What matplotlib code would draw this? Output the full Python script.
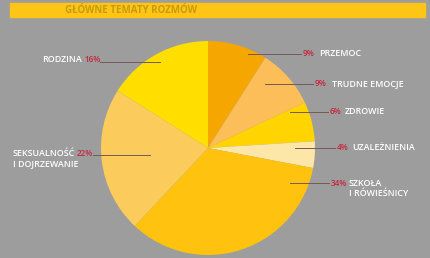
import matplotlib
matplotlib.use("Agg")
import matplotlib.pyplot as plt
from matplotlib.lines import Line2D

title = "GŁÓWNE TEMATY ROZMÓW"
categories = ["PRZEMOC", "TRUDNE EMOCJE", "ZDROWIE", "UZALEŻNIENIA",
              "SZKOŁA\nI RÓWIEŚNICY", "SEKSUALNOŚĆ\nI DOJRZEWANIE", "RODZINA"]
values = [9, 9, 6, 4, 34, 22, 16]
colors = ["#F6A600", "#FBBE58", "#FFD400", "#FCE6A8", "#FFC20E", "#FBCB5C", "#FFDE00"]

W, H = 431, 258
fig = plt.figure(figsize=(W / 100, H / 100), dpi=100)
fig.patch.set_facecolor("#9d9d9d")

# pie axes
cx, cy, r = 208, 148, 107
ax = fig.add_axes([(cx - r) / W, (H - cy - r) / H, 2 * r / W, 2 * r / H])
ax.pie(values, colors=colors, startangle=90, counterclock=False,
       wedgeprops=dict(linewidth=0))
ax.set_xlim(-1, 1)
ax.set_ylim(-1, 1)
ax.set_aspect("auto")
ax.axis("off")

# overlay axes in pixel coords
ov = fig.add_axes([0, 0, 1, 1], zorder=5)
ov.set_xlim(0, W)
ov.set_ylim(H, 0)
ov.axis("off")
ov.patch.set_alpha(0)

# title bar
ov.add_patch(plt.Rectangle((10, 3), 415, 14, color="#FFC516", zorder=1))
ov.text(65, 10.5, title, fontsize=7.0, color="#C89A10", fontweight="bold",
        va="center", ha="left", family="Open Sans")

font = dict(fontsize=6.4, family="Open Sans", fontweight="semibold")
pfont = dict(fontsize=5.9, family="Open Sans", fontweight="semibold")
red = "#C4283E"
line_c = "#76585a"

# right-hand labels: (index, pct_x, text_x, y, line_x0)
right = [
    (0, 303, 319, 54, 248),
    (1, 315, 332, 84, 265),
    (2, 330, 345, 112, 290),
    (3, 337, 352, 148, 295),
    (4, 331, 349, 183, 290),
]
for i, px, tx, y, lx in right:
    ov.add_line(Line2D([lx, px - 2], [y, y], color=line_c, lw=0.7))
    ov.text(px, y, f"{values[i]}%", color=red, ha="left", va="center", **pfont)
    lines = categories[i].split("\n")
    for k, ln in enumerate(lines):
        ov.text(tx, y + k * 11, ln, color="white", ha="left", va="center", **font)

# left-hand labels: (index, text_right_x, y, line_x1)
left = [
    (6, 82, 60, 160),
    (5, 75, 153, 150),
]
for i, tx, y, lx in left:
    lines = categories[i].split("\n")
    ov.text(tx, y, lines[0], color="white", ha="right", va="center", **font)
    ov.text(tx + 2, y, f"{values[i]}%", color=red, ha="left", va="center", **pfont)
    ov.add_line(Line2D([tx + 18, lx], [y + 2, y + 2], color=line_c, lw=0.7))
    for k, ln in enumerate(lines[1:], start=1):
        ov.text(13, y + k * 11, ln, color="white", ha="left", va="center", **font)

fig.savefig("out.png", dpi=100, facecolor=fig.get_facecolor())
